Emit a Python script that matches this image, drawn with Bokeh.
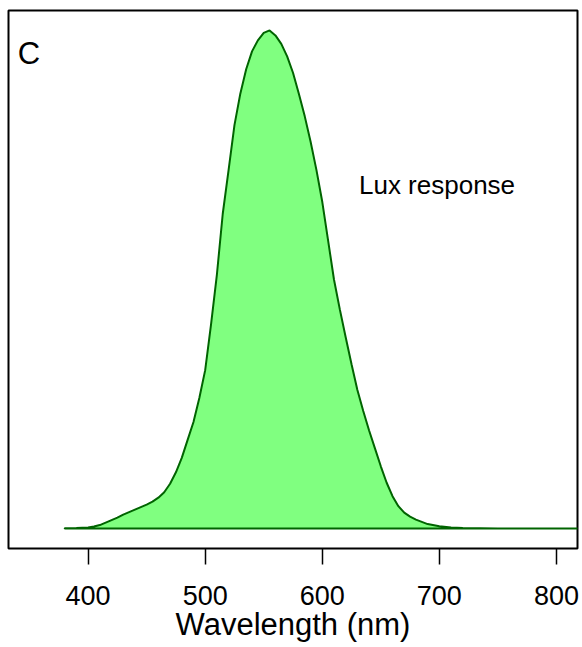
from bokeh.plotting import figure
from bokeh.models import Range1d, LinearAxis, FixedTicker, Label
from bokeh.embed import file_html
from bokeh.resources import INLINE

# Lux response curve (wavelength nm, relative response)
wavelength = [380, 390, 400, 405, 410, 415, 420, 425, 430, 435, 440, 445, 450, 455,
              460, 465, 470, 475, 480, 485, 490, 495, 500, 505, 510, 515, 520, 525,
              530, 535, 540, 545, 550, 555, 560, 565, 570, 575, 580, 585, 590, 595,
              600, 605, 610, 615, 620, 625, 630, 635, 640, 645, 650, 655, 660, 665,
              670, 675, 680, 690, 700, 710, 720, 750, 800, 830]
response = [0.0005, 0.001, 0.002, 0.004, 0.007, 0.012, 0.017, 0.022, 0.028, 0.033,
            0.038, 0.043, 0.048, 0.054, 0.062, 0.073, 0.090, 0.113, 0.142, 0.178,
            0.214, 0.262, 0.318, 0.410, 0.510, 0.632, 0.720, 0.810, 0.873, 0.922,
            0.958, 0.980, 0.995, 1.000, 0.990, 0.973, 0.948, 0.915, 0.873, 0.828,
            0.777, 0.720, 0.656, 0.578, 0.500, 0.440, 0.384, 0.330, 0.278, 0.236,
            0.197, 0.161, 0.125, 0.092, 0.065, 0.045, 0.032, 0.024, 0.018, 0.009,
            0.0045, 0.002, 0.001, 0.0003, 0.0001, 0.0]
x_ticks = [400, 500, 600, 700, 800]

FONT = "Liberation Sans"

p = figure(width=582, height=647, output_backend="svg", toolbar_location=None,
           x_range=Range1d(332.0, 818.0), y_range=Range1d(-0.04, 1.04),
           x_axis_location=None, y_axis_location=None,
           min_border_left=8, min_border_right=5, min_border_top=10, min_border_bottom=99)
p.xgrid.visible = False
p.ygrid.visible = False
p.outline_line_color = "black"
p.outline_line_width = 2
p.background_fill_color = "white"
p.border_fill_color = "white"

# filled curve polygon closed along the baseline
px = wavelength + [wavelength[-1], wavelength[0]]
py = response + [0.0, 0.0]
p.patch(px, py, fill_color="#80FF80", line_color="#006400", line_width=2)

ax = LinearAxis(ticker=FixedTicker(ticks=x_ticks))
ax.axis_line_color = None
ax.major_tick_in = 0
ax.major_tick_out = 16
ax.major_tick_line_width = 1.5
ax.major_tick_line_color = "black"
ax.minor_tick_line_color = None
ax.major_label_text_font = FONT
ax.major_label_text_font_size = "27px"
ax.major_label_text_color = "black"
ax.major_label_standoff = 21
ax.axis_label = "Wavelength (nm)"
ax.axis_label_text_font = FONT
ax.axis_label_text_font_size = "31px"
ax.axis_label_text_font_style = "normal"
ax.axis_label_text_color = "black"
ax.axis_label_standoff = -1
p.add_layout(ax, "below")

p.add_layout(Label(x=340.0, y=0.954, text="C", text_font=FONT, text_font_size="31px",
                   text_align="left", text_baseline="alphabetic", text_color="black"))
p.add_layout(Label(x=698.0, y=0.689, text="Lux response", text_font=FONT,
                   text_font_size="26px", text_align="center",
                   text_baseline="alphabetic", text_color="black"))

open("out.html", "w").write(file_html(p, INLINE))
